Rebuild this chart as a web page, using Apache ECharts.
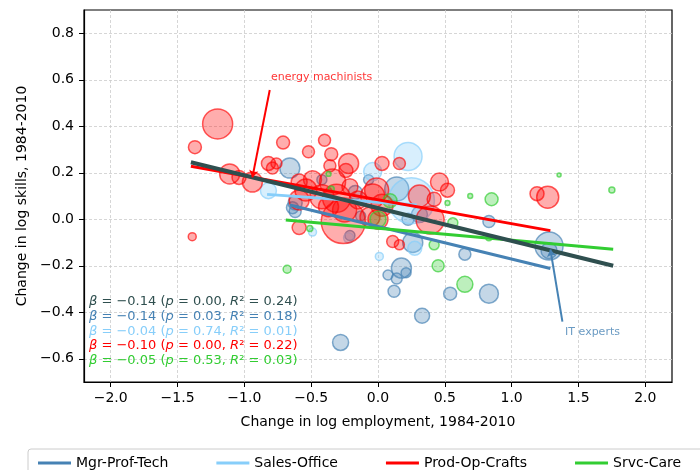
<!DOCTYPE html>
<html>
<head>
<meta charset="utf-8">
<script src="https://cdn.jsdelivr.net/npm/echarts@6/dist/echarts.min.js"></script>
<style>
html, body { margin: 0; padding: 0; background: #fff; }
#main { width: 700px; height: 470px; }
</style>
</head>
<body>
<div id="main"></div>
<script>
var groupNames = ['Mgr-Prof-Tech', 'Sales-Office', 'Prod-Op-Crafts', 'Srvc-Care'];
var groupColors = ['#4682B4', '#87CEFA', '#FF0000', '#32CD32'];
var groupFills = ['rgba(70,130,180,0.4)', 'rgba(135,206,250,0.4)', 'rgba(255,0,0,0.4)', 'rgba(50,205,50,0.4)'];
var groupEdges = ['rgba(70,130,180,0.85)', 'rgba(135,206,250,0.85)', 'rgba(255,0,0,0.8)', 'rgba(50,205,50,0.85)'];
var allColor = '#2F4F4F';

// occupations: [change in log employment, change in log skills, employment weight]
var mgrPoints = [
  [-0.66, 0.22, 100], [-0.42, 0.17, 25], [-0.62, 0.07, 49], [-0.62, 0.033, 36],
  [-0.64, 0.05, 36], [-0.07, 0.17, 25], [-0.17, 0.115, 49], [-0.13, 0.014, 25],
  [-0.21, -0.07, 25], [0.14, 0.13, 144], [0.31, 0.02, 64], [0.225, 0.0, 36],
  [0.26, -0.10, 100], [0.83, -0.01, 36], [0.65, -0.15, 36], [0.175, -0.21, 100],
  [0.075, -0.24, 25], [0.14, -0.255, 30], [0.21, -0.23, 25], [0.12, -0.31, 36],
  [0.54, -0.32, 42], [0.83, -0.32, 90], [0.33, -0.415, 56], [-0.28, -0.53, 64],
  [1.28, -0.115, 196], [1.28, -0.135, 64]
];
var salesPoints = [
  [-0.82, 0.123, 64], [0.225, 0.27, 196], [-0.04, 0.205, 81], [0.25, 0.08, 529],
  [0.275, -0.125, 49], [0.01, -0.16, 16], [-0.22, -0.08, 25], [-0.49, -0.055, 16]
];
var prodPoints = [
  [-1.20, 0.41, 225], [-1.37, 0.31, 42], [-0.71, 0.33, 42], [-0.40, 0.34, 36],
  [-0.52, 0.29, 36], [-0.35, 0.28, 42], [-0.22, 0.24, 100], [-0.36, 0.23, 36],
  [-0.24, 0.21, 49], [-0.82, 0.24, 49], [-0.76, 0.24, 30], [-0.79, 0.22, 36],
  [-1.11, 0.195, 100], [-1.04, 0.18, 49], [-0.94, 0.16, 100], [-1.39, -0.075, 16],
  [-0.59, -0.036, 49], [-0.26, -0.01, 484], [0.03, 0.24, 49], [0.16, 0.24, 36],
  [0.46, 0.16, 81], [0.52, 0.125, 49], [0.42, 0.086, 49], [0.31, 0.10, 121],
  [-0.04, 0.10, 144], [0.03, 0.06, 121], [0.0, 0.0, 100], [0.39, -0.003, 196],
  [0.11, -0.096, 36], [0.16, -0.11, 25], [1.19, 0.11, 49], [1.27, 0.095, 121],
  [-0.59, 0.16, 64], [-0.49, 0.17, 81], [-0.54, 0.126, 121], [-0.34, 0.16, 169],
  [-0.31, 0.09, 196], [-0.21, 0.14, 64], [-0.42, 0.097, 144], [-0.15, 0.083, 81],
  [-0.01, 0.126, 144], [-0.06, 0.01, 100], [-0.25, 0.04, 144], [-0.37, 0.054, 100],
  [-0.59, 0.083, 100]
];
var srvcPoints = [
  [0.0, 0.0, 64], [0.09, 0.08, 49], [0.45, -0.20, 36], [0.65, -0.28, 64],
  [0.56, -0.015, 25], [0.85, 0.086, 42], [0.52, 0.07, 6], [0.69, 0.10, 6],
  [0.42, -0.11, 25], [0.83, -0.08, 9], [1.355, 0.19, 4], [1.75, 0.126, 9],
  [-0.51, -0.04, 9], [-0.68, -0.215, 16], [-0.37, 0.195, 6], [-0.35, 0.13, 9]
];

// fitted lines: [start, end]
var fitMgr = [[-0.66, 0.061], [1.29, -0.212]];
var fitSales = [[-0.83, 0.107], [0.29, 0.061]];
var fitProd = [[-1.40, 0.228], [1.29, -0.049]];
var fitSrvc = [[-0.69, -0.003], [1.76, -0.129]];
var fitAll = [[-1.40, 0.245], [1.76, -0.200]];

// regression stats: beta, p, R2 (All, Mgr, Sales, Prod, Srvc)
var statBeta = ['\u22120.14', '\u22120.14', '\u22120.04', '\u22120.10', '\u22120.05'];
var statP = ['0.00', '0.03', '0.74', '0.00', '0.53'];
var statR2 = ['0.24', '0.18', '0.01', '0.22', '0.03'];
var statColors = [allColor, '#4682B4', '#87CEFA', '#FF0000', '#32CD32'];

// annotations
var noteText = ['energy machinists', 'IT experts'];
var noteTextAt = [[-0.80, 0.612], [1.40, -0.485]];
var noteTail = [[-0.81, 0.556], [1.38, -0.44]];
var noteHead = [[-0.94, 0.18], [1.29, -0.13]];
var noteColors = ['#FF0000', '#4682B4'];

var xTicks = [-2.0, -1.5, -1.0, -0.5, 0.0, 0.5, 1.0, 1.5, 2.0];
var yTicks = [-0.6, -0.4, -0.2, 0.0, 0.2, 0.4, 0.6, 0.8];

var chart = echarts.init(document.getElementById('main'), null, { renderer: 'canvas' });

function fmt(v) {
  var s = Math.abs(v).toFixed(1);
  return v < -1e-9 ? '\u2212' + s : s;
}

var points = [mgrPoints, salesPoints, prodPoints, srvcPoints];
var fits = [fitMgr, fitSales, fitProd, fitSrvc];
var series = [];

points.forEach(function (pts, i) {
  series.push({
    name: groupNames[i] + ' occupations',
    type: 'scatter',
    data: pts,
    symbolSize: function (v) { return 2 * Math.sqrt(v[2]); },
    itemStyle: { color: groupFills[i], borderColor: groupEdges[i], borderWidth: 1.5 },
    z: 2
  });
});
fits.forEach(function (f, i) {
  series.push({
    name: groupNames[i],
    type: 'line',
    data: f,
    showSymbol: false,
    symbol: 'none',
    color: groupColors[i],
    lineStyle: { color: groupColors[i], width: 3 },
    z: 3
  });
});
series.push({
  name: 'All',
  type: 'line',
  data: fitAll,
  showSymbol: false,
  symbol: 'none',
  color: allColor,
  lineStyle: { color: allColor, width: 4 },
  z: 4
});
// arrows and labels for the notes
series.push({
  name: 'notes',
  type: 'scatter',
  symbolSize: 0,
  data: noteText.map(function (t, i) {
    return {
      value: noteTextAt[i],
      name: t,
      label: { color: noteColors[i] }
    };
  }),
  label: {
    show: true,
    formatter: '{b}',
    position: [0, 0],
    align: 'left',
    verticalAlign: 'middle',
    fontSize: 11,
    fontFamily: 'DejaVu Sans'
  },
  markLine: {
    silent: true,
    symbol: ['none', 'arrow'],
    symbolSize: 7,
    label: { show: false },
    data: noteText.map(function (t, i) {
      return [
        { coord: noteTail[i], lineStyle: { color: noteColors[i], width: 2, type: 'solid' } },
        { coord: noteHead[i] }
      ];
    })
  },
  z: 5
});

var graphics = [{
  type: 'rect',
  shape: { x: 28, y: 449, width: 700, height: 40, r: 3 },
  style: { fill: '#fff', stroke: '#cccccc', lineWidth: 1 },
  z: 0
}];
statBeta.forEach(function (b, i) {
  graphics.push({
    type: 'text',
    x: 89,
    y: 302 + i * 14.7,
    style: {
      text: '{i|\u03b2} = ' + b + ' ({i|p} = ' + statP[i] + ', {i|R}\u00b2 = ' + statR2[i] + ')',
      fill: statColors[i],
      font: '13px "DejaVu Sans"',
      verticalAlign: 'middle',
      rich: {
        i: { fontStyle: 'italic', fill: statColors[i], fontSize: 13, fontFamily: 'DejaVu Sans' }
      }
    },
    z: 10
  });
});

var gridLine = { show: true, lineStyle: { color: '#cccccc', type: [3, 2], width: 0.8 } };

var option = {
  animation: false,
  textStyle: { fontFamily: 'DejaVu Sans' },
  grid: {
    left: 84, right: 28, top: 10, bottom: 88,
    show: true, borderColor: '#000', borderWidth: 1.2, backgroundColor: 'transparent'
  },
  xAxis: {
    type: 'value',
    min: -2.2, max: 2.2,
    name: 'Change in log employment, 1984-2010',
    nameLocation: 'middle',
    nameGap: 33,
    nameTextStyle: { fontSize: 14, color: '#000' },
    axisLine: { show: true, onZero: false, lineStyle: { color: '#000', width: 1.2 } },
    axisTick: { show: true, length: 5, customValues: xTicks, lineStyle: { color: '#000' } },
    axisLabel: { fontSize: 14, color: '#000', margin: 9, customValues: xTicks, formatter: fmt },
    splitLine: gridLine
  },
  yAxis: {
    type: 'value',
    min: -0.7, max: 0.9,
    name: 'Change in log skills, 1984-2010',
    nameLocation: 'middle',
    nameGap: 55,
    nameTextStyle: { fontSize: 14, color: '#000' },
    axisLine: { show: true, onZero: false, lineStyle: { color: '#000', width: 1.2 } },
    axisTick: { show: true, length: 5, customValues: yTicks, lineStyle: { color: '#000' } },
    axisLabel: { fontSize: 14, color: '#000', margin: 10, customValues: yTicks, formatter: fmt },
    splitLine: gridLine
  },
  legend: {
    data: groupNames,
    left: 33,
    top: 451,
    icon: 'rect',
    itemWidth: 33,
    itemHeight: 3,
    itemGap: 48,
    textStyle: { fontSize: 14, color: '#000', fontFamily: 'DejaVu Sans' },
    z: 20
  },
  graphic: graphics,
  series: series
};

chart.setOption(option);
</script>
</body>
</html>
